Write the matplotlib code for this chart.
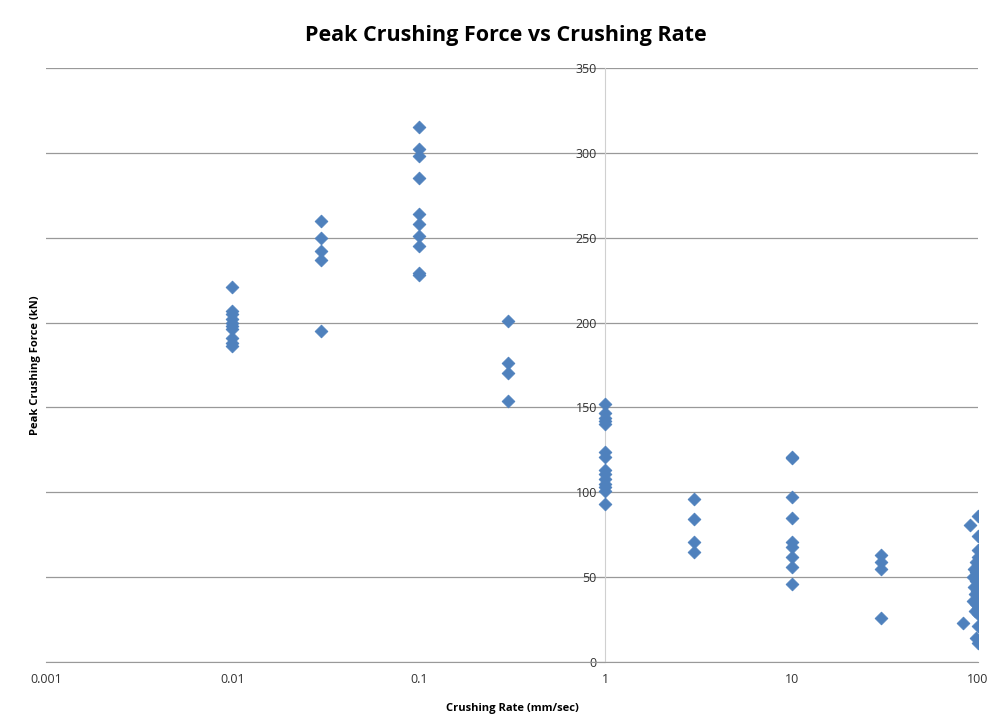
import numpy as np
import matplotlib.pyplot as plt

# Crushing rate (mm/sec) groups and peak crushing force (kN)
rate_001 = [0.01] * 10
force_001 = [221, 207, 205, 202, 200, 198, 196, 191, 188, 186]

rate_003 = [0.03] * 5
force_003 = [260, 250, 242, 237, 195]

rate_01 = [0.1] * 10
force_01 = [315, 302, 298, 285, 264, 258, 251, 245, 229, 228]

rate_03 = [0.3] * 4
force_03 = [201, 176, 170, 154]

rate_1 = [1] * 14
force_1 = [152, 147, 144, 142, 140, 124, 121, 113, 111, 108, 105, 103, 101, 93]

rate_3 = [3] * 4
force_3 = [96, 84, 71, 65]

rate_10 = [10] * 9
force_10 = [121, 120, 97, 85, 71, 68, 62, 56, 46]

rate_30 = [30] * 4
force_30 = [63, 59, 55, 26]

rate_100 = [100, 91, 100, 100, 100, 97, 100, 95, 98, 100, 94, 97, 100, 95, 99,
            96, 100, 94, 98, 100, 96, 100, 83, 100, 97, 100]
force_100 = [86, 81, 74, 66, 62, 59, 57, 55, 53, 51, 50, 48, 46, 44, 42,
             40, 38, 36, 34, 32, 30, 28, 23, 21, 14, 11]

rates = rate_001 + rate_003 + rate_01 + rate_03 + rate_1 + rate_3 + rate_10 + rate_30 + rate_100
forces = force_001 + force_003 + force_01 + force_03 + force_1 + force_3 + force_10 + force_30 + force_100

xticks = [0.001, 0.01, 0.1, 1, 10, 100]
xtick_labels = ["0.001", "0.01", "0.1", "1", "10", "100"]
yticks = [0, 50, 100, 150, 200, 250, 300, 350]

plt.rcParams['font.family'] = ['Open Sans', 'DejaVu Sans']

fig = plt.figure(figsize=(9.95, 7.23), dpi=100)
ax = fig.add_axes([46 / 995, 1 - 662 / 723, 932 / 995, 594 / 723])

ax.scatter(rates, forces, marker='D', s=42, color='#4F81BD', edgecolors='#4F81BD',
           linewidths=0.6, zorder=3)

ax.set_xscale('log')
ax.set_xlim(0.001, 100)
ax.set_ylim(0, 350)
ax.set_xticks(xticks)
ax.set_xticklabels(xtick_labels)
ax.minorticks_off()
ax.set_yticks(yticks)

ax.grid(axis='y', color='#999999', linewidth=0.9)
ax.set_axisbelow(True)

for s in ['top', 'right']:
    ax.spines[s].set_visible(False)
ax.spines['left'].set_position(('data', 1))
ax.spines['left'].set_color('#d0d0d0')
ax.spines['bottom'].set_color('#999999')

ax.tick_params(axis='x', length=0, pad=8, labelsize=9, labelcolor='#333333')
ax.tick_params(axis='y', length=4, color='#999999', pad=2, labelsize=9, labelcolor='#333333')

ax.set_xlabel("Crushing Rate (mm/sec)", fontsize=8, fontweight='bold', labelpad=12)
fig.text(36 / 995, 1 - 365 / 723, "Peak Crushing Force (kN)", rotation=90,
         fontsize=8, fontweight='bold', ha='center', va='center')
fig.text(506 / 995, 1 - 36 / 723, "Peak Crushing Force vs Crushing Rate",
         fontsize=15.5, fontweight='bold', ha='center', va='center')

fig.savefig("out.png", dpi=100)
